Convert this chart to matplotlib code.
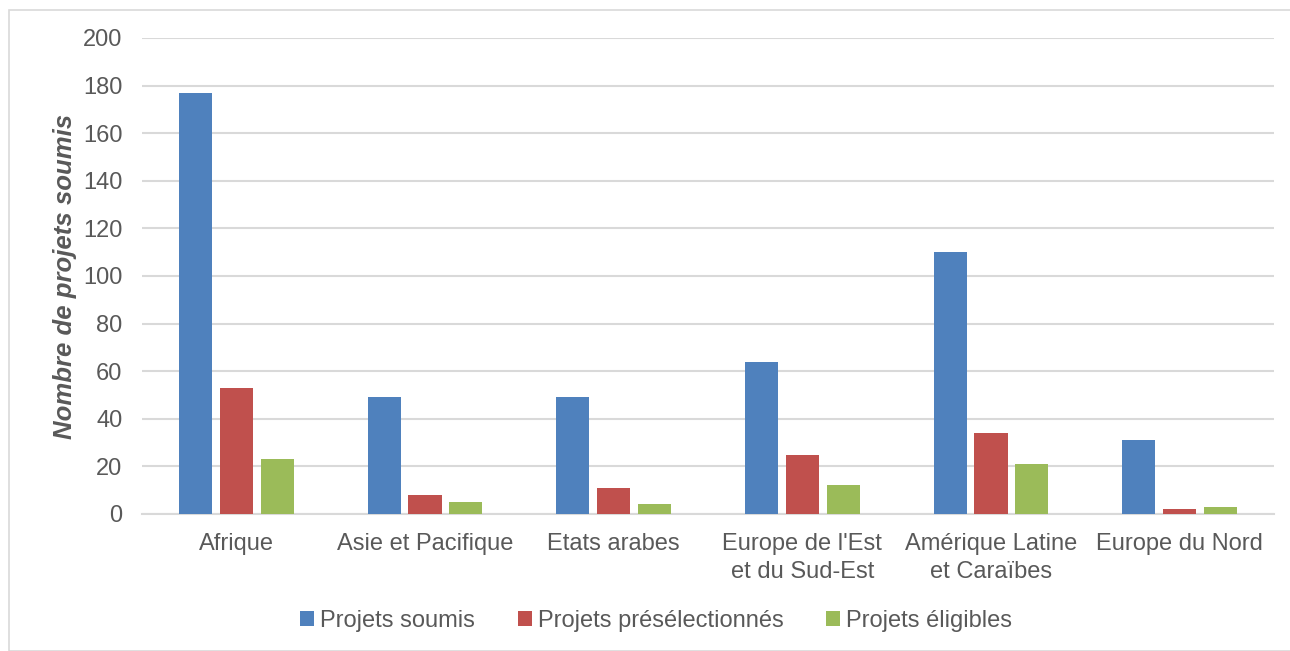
import matplotlib
matplotlib.use("Agg")
import matplotlib.pyplot as plt
from matplotlib.patches import Rectangle
import numpy as np

plt.rcParams['font.family'] = ['Liberation Sans', 'DejaVu Sans']

regions = ["Afrique", "Asie et Pacifique", "Etats arabes",
           "Europe de l'Est\net du Sud-Est", "Amérique Latine\net Caraïbes",
           "Europe du Nord"]
soumis = [177, 49, 49, 64, 110, 31]
preselect = [53, 8, 11, 25, 34, 2]
eligibles = [23, 5, 4, 12, 21, 3]
series_names = ["Projets soumis", "Projets présélectionnés", "Projets éligibles"]
colors = ["#4f81bd", "#c0504d", "#9bbb59"]
yticks = list(range(0, 201, 20))

W, H = 1290, 651
fig = plt.figure(figsize=(W / 100, H / 100), dpi=100)
ax = fig.add_axes([142 / W, 1 - 514 / H, (1274 - 142) / W, (514 - 38) / H])

# outer chart border
fig.patches.append(Rectangle((8.5 / W, 0), 1, 1 - 9.5 / H, transform=fig.transFigure,
                             fill=False, edgecolor="#d9d9d9", linewidth=1.2))

x = np.arange(len(regions))
bw = 0.175
step = 0.217
for i, (vals, name, c) in enumerate(zip([soumis, preselect, eligibles], series_names, colors)):
    ax.bar(x + (i - 1) * step, vals, width=bw, color=c, label=name, zorder=3)

ax.set_xlim(-0.5, len(regions) - 0.5)
ax.set_ylim(0, 200)
ax.set_yticks(yticks)
ax.grid(axis="y", color="#d9d9d9", linewidth=1.5, zorder=0)
for s in ["top", "right", "left"]:
    ax.spines[s].set_visible(False)
ax.spines["bottom"].set_color("#d9d9d9")
ax.spines["bottom"].set_linewidth(1.5)
ax.set_xticks(x)
ax.set_xticklabels(regions, fontsize=17, color="#595959", linespacing=1.32)
ax.tick_params(axis="both", length=0, labelsize=17, colors="#595959")
ax.tick_params(axis="x", pad=14)
ax.tick_params(axis="y", pad=14)
ax.set_ylabel("Nombre de projets soumis", fontsize=18.5, fontweight="bold",
              fontstyle="italic", color="#595959", labelpad=4)

fig.legend(loc="center", bbox_to_anchor=(656 / W, 1 - 621 / H), ncol=3, frameon=False,
           fontsize=17, handlelength=0.6, handleheight=0.6, handletextpad=0.25,
           columnspacing=1.8, labelcolor="#595959")

fig.savefig("out.png", dpi=100)
